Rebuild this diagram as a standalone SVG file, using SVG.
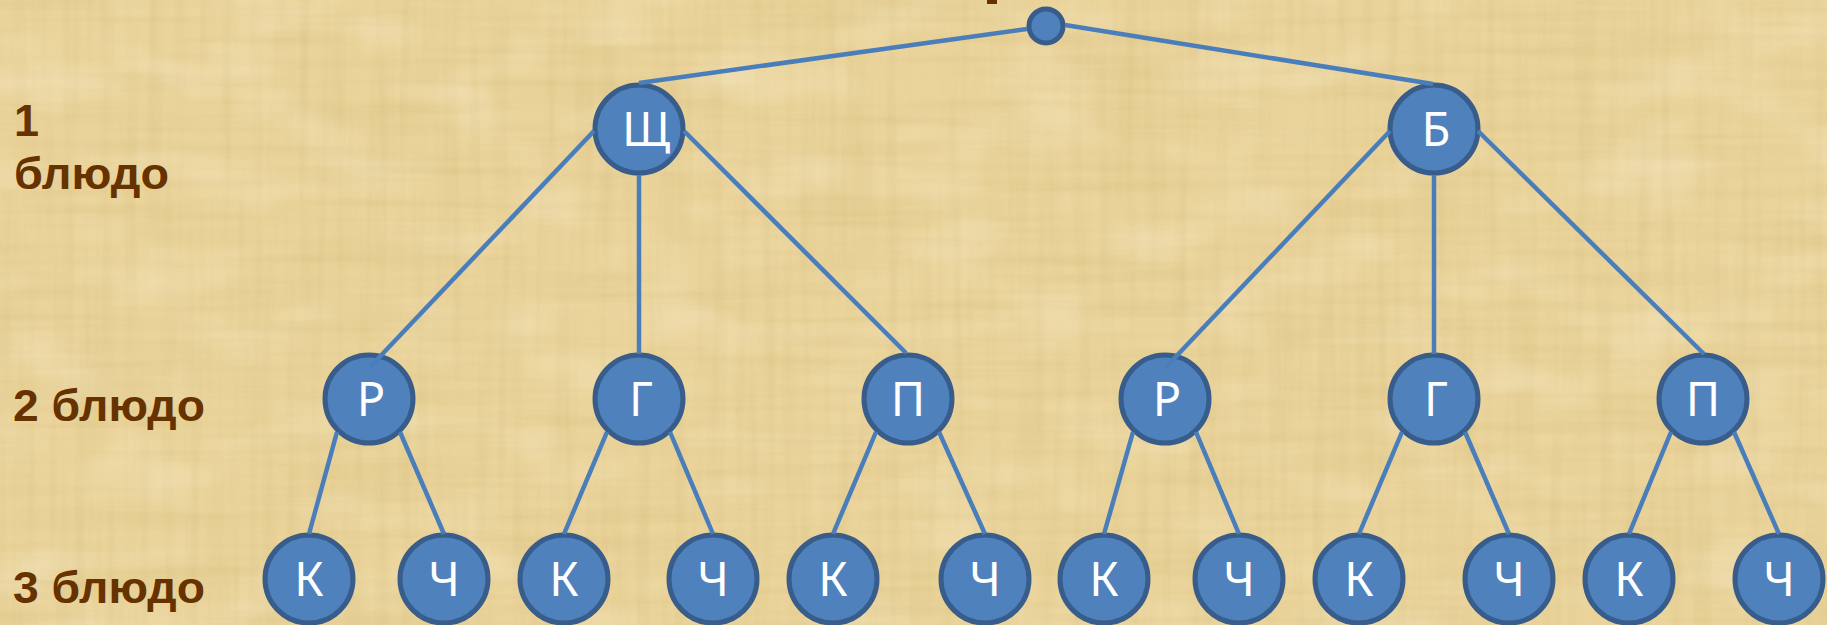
<svg xmlns="http://www.w3.org/2000/svg" width="1827" height="625" viewBox="0 0 1827 625">
<defs>
<style>
.nd circle{fill:#4F81BD;stroke:#385D8A;stroke-width:5}
.nd text{fill:#FFFFFF;font-family:"Noto Sans","Open Sans","DejaVu Sans",sans-serif;font-size:47px;text-anchor:middle}
.lbl{fill:#663300;font-family:"Liberation Sans","Noto Sans","DejaVu Sans",sans-serif;font-weight:bold;font-size:45px}
#edges line{stroke:#4A7EBB;stroke-width:4.5;stroke-linecap:butt}
</style>
<filter id="texH" x="0" y="0" width="100%" height="100%">
<feTurbulence type="fractalNoise" baseFrequency="0.004 0.09" numOctaves="3" seed="4"/>
<feColorMatrix type="matrix" values="0 0 0 0 0.62  0 0 0 0 0.47  0 0 0 0 0.18  1.1 0 0 0 -0.45"/>
</filter>
<filter id="texV" x="0" y="0" width="100%" height="100%">
<feTurbulence type="fractalNoise" baseFrequency="0.08 0.004" numOctaves="3" seed="9"/>
<feColorMatrix type="matrix" values="0 0 0 0 0.62  0 0 0 0 0.47  0 0 0 0 0.18  1.1 0 0 0 -0.45"/>
</filter>
<filter id="texL" x="0" y="0" width="100%" height="100%">
<feTurbulence type="fractalNoise" baseFrequency="0.01 0.02" numOctaves="2" seed="2"/>
<feColorMatrix type="matrix" values="0 0 0 0 1  0 0 0 0 0.97  0 0 0 0 0.85  1.2 0 0 0 -0.55"/>
</filter>
</defs>
<g id="background">
<rect width="1827" height="625" fill="#EBD49B"/>
<rect width="1827" height="625" filter="url(#texH)" opacity="0.45"/>
<rect width="1827" height="625" filter="url(#texV)" opacity="0.45"/>
<rect width="1827" height="625" filter="url(#texL)" opacity="0.45"/>
<rect x="987" y="0" width="10" height="4" fill="#663300"/>
</g>
<g id="labels">
<text class="lbl" x="14" y="136">1</text>
<text class="lbl" x="14" y="189" textLength="155" lengthAdjust="spacingAndGlyphs">блюдо</text>
<text class="lbl" x="13" y="421" textLength="192" lengthAdjust="spacingAndGlyphs">2 блюдо</text>
<text class="lbl" x="13" y="603" textLength="192" lengthAdjust="spacingAndGlyphs">3 блюдо</text>
</g>
<g id="n-root" class="nd"><circle cx="1046" cy="26" r="17"/></g>
<g id="n-shch" class="nd"><circle cx="639" cy="129" r="44"/><text x="646" y="146">Щ</text></g>
<g id="n-b" class="nd"><circle cx="1434" cy="129" r="44"/><text x="1436" y="146">Б</text></g>
<g id="n-r1" class="nd"><circle cx="369" cy="399" r="44"/><text x="371" y="416">Р</text></g>
<g id="n-g1" class="nd"><circle cx="639" cy="399" r="44"/><text x="641" y="416">Г</text></g>
<g id="n-p1" class="nd"><circle cx="908" cy="399" r="44"/><text x="908" y="416">П</text></g>
<g id="n-r2" class="nd"><circle cx="1165" cy="399" r="44"/><text x="1167" y="416">Р</text></g>
<g id="n-g2" class="nd"><circle cx="1434" cy="399" r="44"/><text x="1436" y="416">Г</text></g>
<g id="n-p2" class="nd"><circle cx="1703" cy="399" r="44"/><text x="1703" y="416">П</text></g>
<g id="n-k1" class="nd"><circle cx="309" cy="579" r="44"/><text x="309" y="596">К</text></g>
<g id="n-ch1" class="nd"><circle cx="444" cy="579" r="44"/><text x="444" y="596">Ч</text></g>
<g id="n-k2" class="nd"><circle cx="564" cy="579" r="44"/><text x="564" y="596">К</text></g>
<g id="n-ch2" class="nd"><circle cx="713" cy="579" r="44"/><text x="713" y="596">Ч</text></g>
<g id="n-k3" class="nd"><circle cx="833" cy="579" r="44"/><text x="833" y="596">К</text></g>
<g id="n-ch3" class="nd"><circle cx="985" cy="579" r="44"/><text x="985" y="596">Ч</text></g>
<g id="n-k4" class="nd"><circle cx="1104" cy="579" r="44"/><text x="1104" y="596">К</text></g>
<g id="n-ch4" class="nd"><circle cx="1239" cy="579" r="44"/><text x="1239" y="596">Ч</text></g>
<g id="n-k5" class="nd"><circle cx="1359" cy="579" r="44"/><text x="1359" y="596">К</text></g>
<g id="n-ch5" class="nd"><circle cx="1509" cy="579" r="44"/><text x="1509" y="596">Ч</text></g>
<g id="n-k6" class="nd"><circle cx="1629" cy="579" r="44"/><text x="1629" y="596">К</text></g>
<g id="n-ch6" class="nd"><circle cx="1779" cy="579" r="44"/><text x="1779" y="596">Ч</text></g>
<g id="edges">
<line x1="1027" y1="29" x2="639" y2="83"/>
<line x1="1065" y1="25" x2="1433" y2="84"/>
<line x1="594" y1="131" x2="370" y2="367"/>
<line x1="639" y1="175" x2="639" y2="354"/>
<line x1="684" y1="131" x2="906" y2="353"/>
<line x1="1390" y1="131" x2="1166" y2="367"/>
<line x1="1434" y1="175" x2="1434" y2="354"/>
<line x1="1478" y1="131" x2="1704" y2="354"/>
<line x1="337" y1="432" x2="309" y2="534"/>
<line x1="400" y1="432" x2="444" y2="534"/>
<line x1="607" y1="432" x2="564" y2="534"/>
<line x1="670" y1="432" x2="713" y2="534"/>
<line x1="876" y1="432" x2="833" y2="534"/>
<line x1="939" y1="432" x2="985" y2="534"/>
<line x1="1133" y1="432" x2="1104" y2="534"/>
<line x1="1196" y1="432" x2="1239" y2="534"/>
<line x1="1402" y1="432" x2="1359" y2="534"/>
<line x1="1465" y1="432" x2="1509" y2="534"/>
<line x1="1671" y1="432" x2="1629" y2="534"/>
<line x1="1734" y1="432" x2="1779" y2="534"/>
</g>
</svg>
